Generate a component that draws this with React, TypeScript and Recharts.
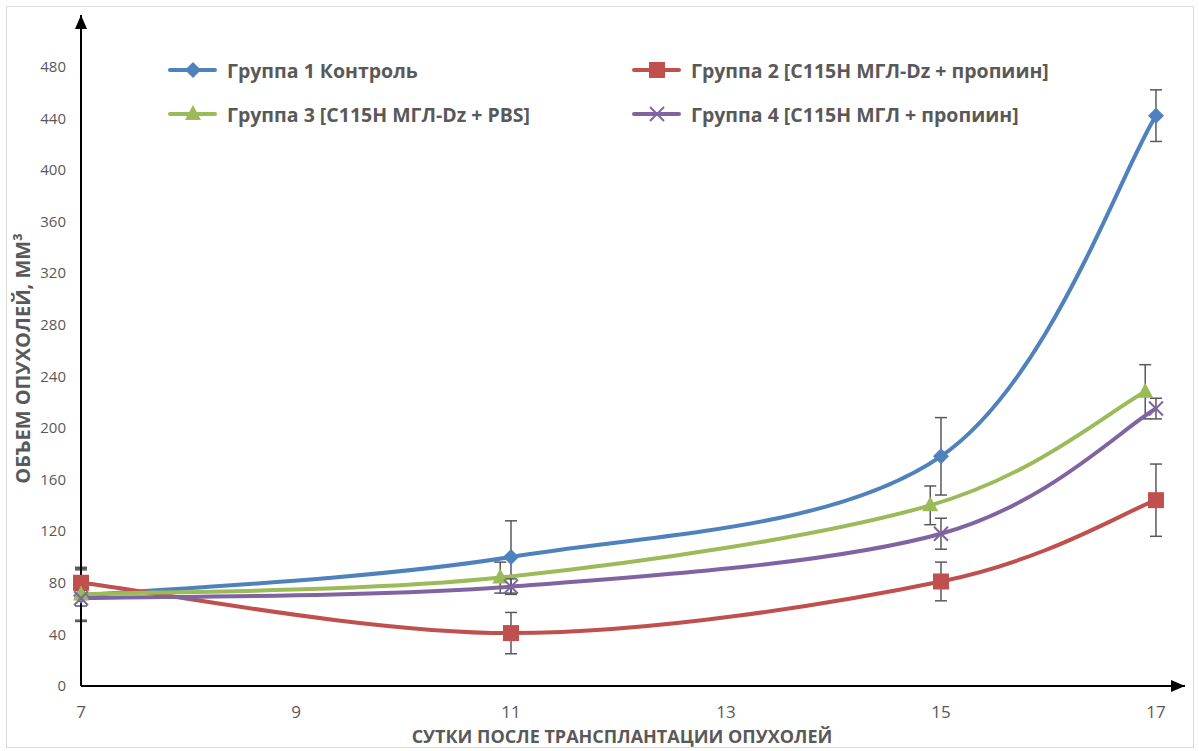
import * as React from 'react';
import { ComposedChart, Line, XAxis, YAxis, ErrorBar, Legend } from 'recharts';

// days after transplantation (group 3 is shifted a bit left in the original)
const days = [7, 11, 15, 17];
const daysGroup3 = [7, 10.9, 14.9, 16.9];

const group1 = [70, 100, 178, 442];
const group1Err = [20, 28, 30, 20];
const group2 = [80, 41, 81, 144];
const group2Err = [12, 16, 15, 28];
const group3 = [71, 84, 140, 228];
const group3Err = [20, 12, 15, 21];
const group4 = [68, 77, 118, 215];
const group4Err = [6, 6, 12, 8];

const xTicks = [7, 9, 11, 13, 15, 17];
const yTicks = [0, 40, 80, 120, 160, 200, 240, 280, 320, 360, 400, 440, 480];

const names = [
  'Группа 1 Контроль',
  'Группа 2 [С115Н МГЛ-Dz + пропиин]',
  'Группа 3 [С115Н МГЛ-Dz + PBS]',
  'Группа 4 [С115Н МГЛ + пропиин]',
];
const colors = ['#4F81BD', '#C0504D', '#9BBB59', '#8064A2'];
const shapes = ['diamond', 'square', 'triangle', 'cross'];

const toRows = (xs: number[], ys: number[], errs: number[]) =>
  xs.map((x, i) => ({ x, y: ys[i], err: errs[i] }));

const series = [
  toRows(days, group1, group1Err),
  toRows(days, group2, group2Err),
  toRows(daysGroup3, group3, group3Err),
  toRows(days, group4, group4Err),
];

const FONT = '"Open Sans", "Noto Sans", sans-serif';
const TEXT = '#595959';

// Excel-like smoothed line (Catmull-Rom through points)
const smoothCurve = (context: any) => {
  let pts: number[][] = [];
  return {
    areaStart() {},
    areaEnd() {},
    lineStart() {
      pts = [];
    },
    point(x: number, y: number) {
      pts.push([+x, +y]);
    },
    lineEnd() {
      if (!pts.length) return;
      context.moveTo(pts[0][0], pts[0][1]);
      for (let i = 0; i < pts.length - 1; i++) {
        const p0 = pts[i - 1] || pts[i];
        const p1 = pts[i];
        const p2 = pts[i + 1];
        const p3 = pts[i + 2] || p2;
        context.bezierCurveTo(
          p1[0] + (p2[0] - p0[0]) / 6,
          p1[1] + (p2[1] - p0[1]) / 6,
          p2[0] - (p3[0] - p1[0]) / 6,
          p2[1] - (p3[1] - p1[1]) / 6,
          p2[0],
          p2[1]
        );
      }
    },
  };
};

function Marker({ shape, color, cx, cy }: { shape: string; color: string; cx: number; cy: number }) {
  if (shape === 'diamond') {
    const r = 8;
    return <polygon points={`${cx},${cy - r} ${cx + r},${cy} ${cx},${cy + r} ${cx - r},${cy}`} fill={color} />;
  }
  if (shape === 'square') {
    return <rect x={cx - 8} y={cy - 8} width={16} height={16} fill={color} />;
  }
  if (shape === 'triangle') {
    return <polygon points={`${cx},${cy - 9} ${cx + 8},${cy + 6} ${cx - 8},${cy + 6}`} fill={color} />;
  }
  const r = 7;
  return (
    <g stroke={color} strokeWidth={2}>
      <line x1={cx - r} y1={cy - r} x2={cx + r} y2={cy + r} />
      <line x1={cx - r} y1={cy + r} x2={cx + r} y2={cy - r} />
    </g>
  );
}

const renderLegend = () => (
  <div
    style={{
      display: 'grid',
      gridTemplateColumns: '464px 470px',
      rowGap: 18,
      fontFamily: FONT,
      fontWeight: 700,
      fontSize: 19.5,
      color: TEXT,
    }}
  >
    {[0, 1, 2, 3].map((i) => (
      <div key={i} style={{ display: 'flex', alignItems: 'center', height: 26 }}>
        <svg width={50} height={20} style={{ marginRight: 9, flex: 'none' }}>
          <line x1={2} y1={10} x2={47} y2={10} stroke={colors[i]} strokeWidth={4} strokeLinecap="round" />
          <Marker shape={shapes[i]} color={colors[i]} cx={25} cy={10} />
        </svg>
        <span style={{ whiteSpace: 'nowrap' }}>{names[i]}</span>
      </div>
    ))}
  </div>
);

const YTitle = (props: any) => {
  const vb = props.viewBox || {};
  const cx = 15;
  const cy = vb.y + vb.height / 2 + 8;
  return (
    <text
      x={cx}
      y={cy}
      transform={`rotate(-90 ${cx} ${cy})`}
      textAnchor="middle"
      dominantBaseline="central"
      fill={TEXT}
      fontFamily={FONT}
      fontWeight={700}
      fontSize={20}
    >
      ОБЪЕМ ОПУХОЛЕЙ, ММ³
    </text>
  );
};

export default function App() {
  return (
    <div
      style={{
        position: 'absolute',
        left: 6,
        top: 6,
        width: 1186,
        height: 740,
        border: '1px solid #d9d9d9',
        background: '#fff',
      }}
    >
      <ComposedChart
        width={1186}
        height={742}
        margin={{ top: 8, right: 8, left: 14, bottom: 13 }}
        style={{ overflow: 'visible' }}
      >
        <defs>
          <marker
            id="arrowHead"
            viewBox="0 0 14 12"
            refX={14}
            refY={6}
            markerWidth={14}
            markerHeight={12}
            markerUnits="userSpaceOnUse"
            orient="auto-start-reverse"
          >
            <path d="M0,0 L14,6 L0,12 z" fill="#000" />
          </marker>
        </defs>
        <XAxis
          type="number"
          dataKey="x"
          domain={[7, 17.27]}
          ticks={xTicks}
          allowDuplicatedCategory={false}
          height={50}
          tickLine={false}
          tickSize={6}
          tickMargin={14}
          axisLine={{ stroke: '#000', strokeWidth: 2, markerEnd: 'url(#arrowHead)' } as any}
          tick={{ fill: TEXT, fontSize: 17, fontFamily: FONT }}
          label={{
            value: 'СУТКИ ПОСЛЕ ТРАНСПЛАНТАЦИИ ОПУХОЛЕЙ',
            position: 'insideBottom',
            offset: -7,
            dx: -11,
            style: { fill: TEXT, fontWeight: 700, fontSize: 18, fontFamily: FONT },
          }}
        />
        <YAxis
          type="number"
          domain={[0, 520]}
          ticks={yTicks}
          width={60}
          tickLine={false}
          tickSize={6}
          tickMargin={9}
          axisLine={{ stroke: '#000', strokeWidth: 2, markerStart: 'url(#arrowHead)' } as any}
          tick={{ fill: TEXT, fontSize: 15, fontFamily: FONT }}
          label={<YTitle />}
        />
        <Legend
          layout="vertical"
          align="center"
          verticalAlign="middle"
          content={renderLegend}
          wrapperStyle={{ position: 'absolute', top: 50, left: 161, width: 950 }}
        />
        {series.map((rows, i) => (
          <Line
            key={names[i]}
            data={rows}
            dataKey="y"
            name={names[i]}
            type={smoothCurve as any}
            stroke={colors[i]}
            strokeWidth={4}
            isAnimationActive={false}
            activeDot={false}
            dot={(p: any) => <Marker key={`${i}-${p.index}`} shape={shapes[i]} color={colors[i]} cx={p.cx} cy={p.cy} />}
          >
            <ErrorBar dataKey="err" direction="y" width={6} stroke="#595959" strokeWidth={1.5} isAnimationActive={false} />
          </Line>
        ))}
      </ComposedChart>
    </div>
  );
}
